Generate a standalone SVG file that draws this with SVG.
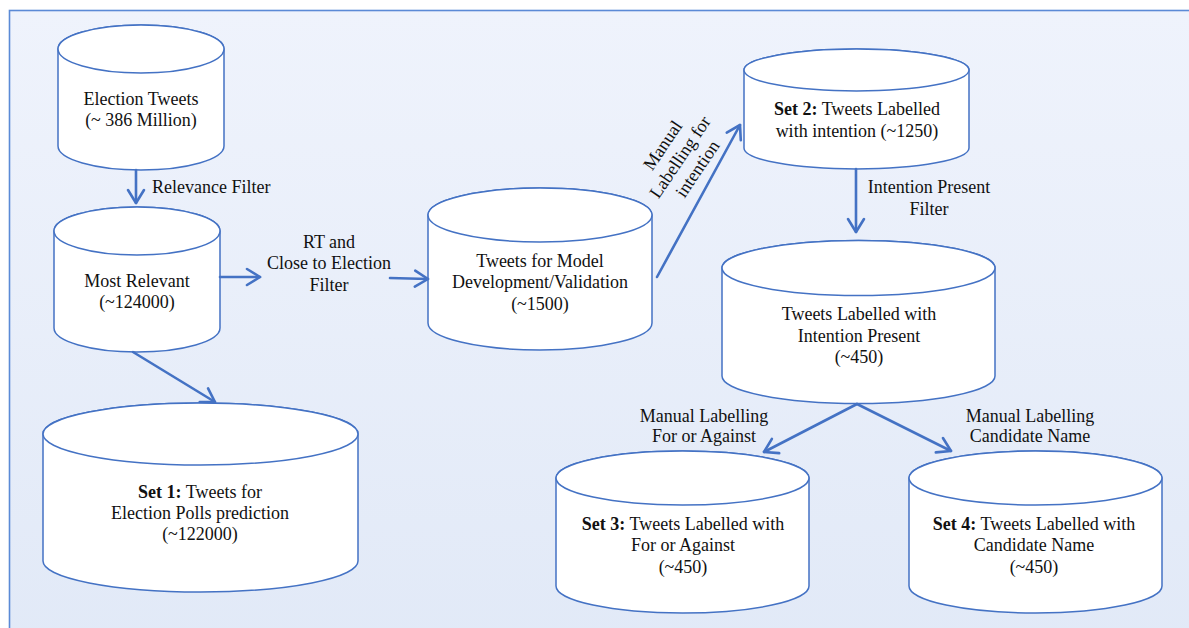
<svg xmlns="http://www.w3.org/2000/svg" width="1189" height="628" viewBox="0 0 1189 628">
<defs>
<linearGradient id="bg" x1="0" y1="0" x2="0" y2="1">
<stop offset="0" stop-color="#eff3fc"/>
<stop offset="1" stop-color="#e1e9f7"/>
</linearGradient>
<marker id="ah" markerUnits="userSpaceOnUse" markerWidth="30" markerHeight="30" viewBox="-20 -15 30 30" refX="0" refY="0" orient="auto">
<path d="M-13,-8 L0,0 L-13,8" fill="none" stroke="#4472c4" stroke-width="2.6" stroke-linecap="round" stroke-linejoin="round"/>
</marker>
</defs>
<style>
.cyl{fill:#ffffff;stroke:#4472c4;stroke-width:1.5}
.t{font-family:"Liberation Serif","Times New Roman",serif;font-size:18px;fill:#111;text-anchor:middle}
.ts{font-family:"Liberation Serif","Times New Roman",serif;font-size:18px;fill:#111}
.b{font-weight:bold}
.c{fill:none;stroke:#4472c4;stroke-width:2.6;stroke-linecap:round;marker-end:url(#ah)}
</style>
<rect x="0" y="0" width="1189" height="628" fill="#ffffff"/>
<rect x="9.5" y="10.5" width="1200" height="650" fill="url(#bg)" stroke="#5b8ad6" stroke-width="1.6"/>

<g id="n-election-tweets">
<path class="cyl" d="M58,49 L58,146 A83,24 0 0 0 224,146 L224,49 A83,24 0 0 0 58,49 Z"/>
<ellipse class="cyl" cx="141" cy="49" rx="83" ry="24"/>
<text class="t" x="141" y="105">Election Tweets</text>
<text class="t" x="141" y="126">(~ 386 Million)</text>
</g>

<g id="n-most-relevant">
<path class="cyl" d="M54,231 L54,328 A83,24 0 0 0 220,328 L220,231 A83,24 0 0 0 54,231 Z"/>
<ellipse class="cyl" cx="137" cy="231" rx="83" ry="24"/>
<text class="t" x="137" y="287">Most Relevant</text>
<text class="t" x="137" y="308">(~124000)</text>
</g>

<g id="n-set1">
<path class="cyl" d="M43,434 L43,561 A157.5,31 0 0 0 358,561 L358,434 A157.5,31 0 0 0 43,434 Z"/>
<ellipse class="cyl" cx="200.5" cy="434" rx="157.5" ry="31"/>
<text class="t" x="200" y="498"><tspan class="b">Set 1:</tspan> Tweets for</text>
<text class="t" x="200" y="519">Election Polls prediction</text>
<text class="t" x="200" y="540">(~122000)</text>
</g>

<g id="n-model">
<path class="cyl" d="M428,215 L428,323 A112,27 0 0 0 652,323 L652,215 A112,27 0 0 0 428,215 Z"/>
<ellipse class="cyl" cx="540" cy="215" rx="112" ry="27"/>
<text class="t" x="540" y="267">Tweets for Model</text>
<text class="t" x="540" y="288">Development/Validation</text>
<text class="t" x="540" y="310">(~1500)</text>
</g>

<g id="n-set2">
<path class="cyl" d="M744,70 L744,148 A112.5,21 0 0 0 969,148 L969,70 A112.5,21 0 0 0 744,70 Z"/>
<ellipse class="cyl" cx="856.5" cy="70" rx="112.5" ry="21"/>
<text class="t" x="857" y="115"><tspan class="b">Set 2:</tspan> Tweets Labelled</text>
<text class="t" x="857" y="137">with intention (~1250)</text>
</g>

<g id="n-intention-present">
<path class="cyl" d="M722,268 L722,376 A136.5,27.5 0 0 0 995,376 L995,268 A136.5,27.5 0 0 0 722,268 Z"/>
<ellipse class="cyl" cx="858.5" cy="268" rx="136.5" ry="27.5"/>
<text class="t" x="859" y="320">Tweets Labelled with</text>
<text class="t" x="859" y="342">Intention Present</text>
<text class="t" x="859" y="363">(~450)</text>
</g>

<g id="n-set3">
<path class="cyl" d="M556,478 L556,586 A126.5,27 0 0 0 809,586 L809,478 A126.5,27 0 0 0 556,478 Z"/>
<ellipse class="cyl" cx="682.5" cy="478" rx="126.5" ry="27"/>
<text class="t" x="683" y="530"><tspan class="b">Set 3:</tspan> Tweets Labelled with</text>
<text class="t" x="683" y="551">For or Against</text>
<text class="t" x="683" y="573">(~450)</text>
</g>

<g id="n-set4">
<path class="cyl" d="M909,478 L909,586 A126.5,27 0 0 0 1162,586 L1162,478 A126.5,27 0 0 0 909,478 Z"/>
<ellipse class="cyl" cx="1035.5" cy="478" rx="126.5" ry="27"/>
<text class="t" x="1034" y="530"><tspan class="b">Set 4:</tspan> Tweets Labelled with</text>
<text class="t" x="1034" y="551">Candidate Name</text>
<text class="t" x="1034" y="573">(~450)</text>
</g>

<g id="connectors">
<line class="c" x1="136" y1="170" x2="136" y2="203"/>
<line class="c" x1="220" y1="277" x2="260" y2="277"/>
<line class="c" x1="390" y1="278" x2="428" y2="279"/>
<line class="c" x1="133" y1="352" x2="215" y2="402"/>
<line class="c" x1="657" y1="277" x2="740" y2="125"/>
<line class="c" x1="856" y1="169" x2="856" y2="232"/>
<line class="c" x1="857" y1="404" x2="764" y2="452"/>
<line class="c" x1="857" y1="404" x2="951" y2="451"/>
</g>

<g id="labels">
<text class="ts" x="152" y="193">Relevance Filter</text>
<text class="t" x="329" y="248">RT and</text>
<text class="t" x="329" y="269">Close to Election</text>
<text class="t" x="329" y="291">Filter</text>
<g transform="translate(680,157) rotate(-56)">
<text class="t" x="0" y="-15">Manual</text>
<text class="t" x="0" y="6">Labelling for</text>
<text class="t" x="0" y="27">intention</text>
</g>
<text class="t" x="929" y="193">Intention Present</text>
<text class="t" x="929" y="215">Filter</text>
<text class="t" x="704" y="422">Manual Labelling</text>
<text class="t" x="704" y="442">For or Against</text>
<text class="t" x="1030" y="422">Manual Labelling</text>
<text class="t" x="1030" y="442">Candidate Name</text>
</g>
</svg>
